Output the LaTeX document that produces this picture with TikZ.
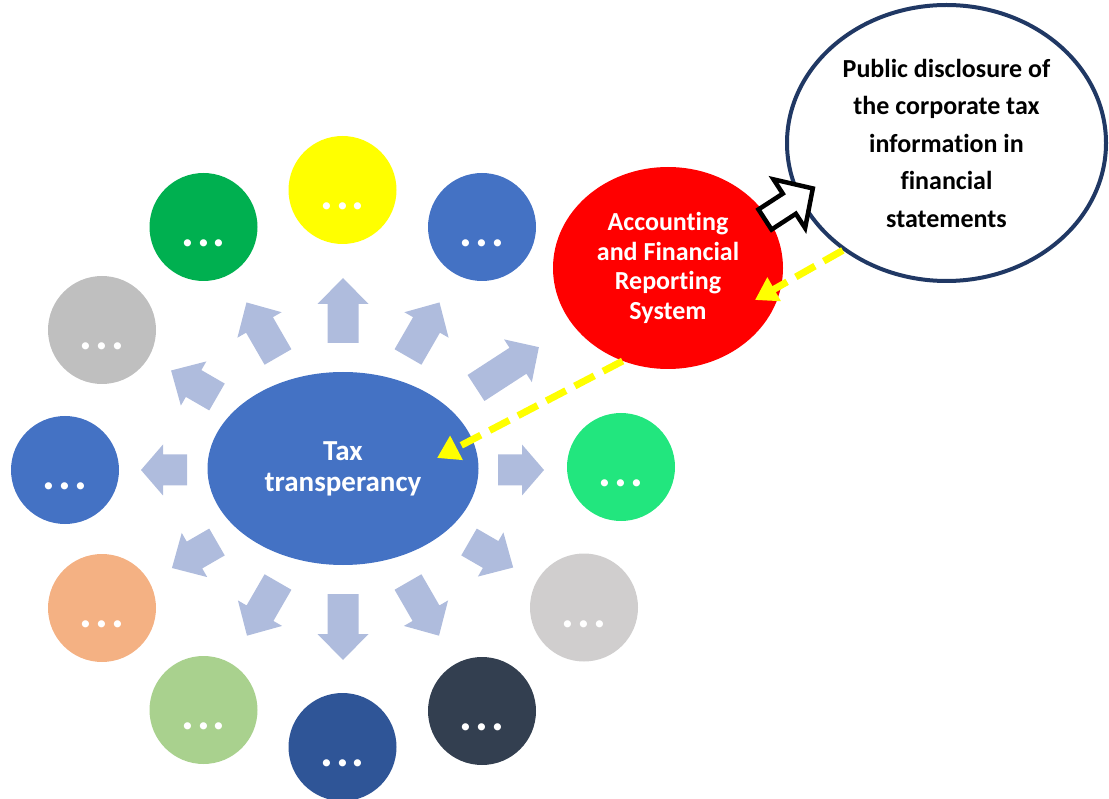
\documentclass[tikz,border=0pt]{standalone}
\usepackage{fontspec}
\setmainfont{Carlito}[Ligatures=NoCommon]
\usetikzlibrary{shapes.geometric,arrows.meta}

\definecolor{taxblue}{HTML}{4472C4}
\definecolor{arrowfill}{HTML}{AFBCDD}
\definecolor{accred}{HTML}{FF0000}
\definecolor{navyline}{HTML}{203864}
\definecolor{dashyellow}{HTML}{FFFF00}
\definecolor{cYellow}{HTML}{FFFF00}
\definecolor{cGreen}{HTML}{00B050}
\definecolor{cGray}{HTML}{BFBFBF}
\definecolor{cBlue}{HTML}{4472C4}
\definecolor{cOrange}{HTML}{F4B183}
\definecolor{cLightGreen}{HTML}{A9D18E}
\definecolor{cDarkBlue}{HTML}{2F5597}
\definecolor{cSlate}{HTML}{333F50}
\definecolor{cLightGray}{HTML}{D0CECE}
\definecolor{cMint}{HTML}{22E67E}

\tikzset{
  bubble/.style={circle, minimum size=108pt, inner sep=0pt},
  dotstext/.style={text=white, inner sep=0pt,
    font=\fontsize{48}{48}\selectfont\bfseries},
  yellowlink/.style={draw=dashyellow, line width=7pt,
    dash pattern=on 22pt off 10pt,
    -{Triangle[length=22pt,width=26pt]}},
}

% a coloured bubble with its three dots
\newcommand\bubble[4]{%
  \node[bubble, fill=#4] (#1) at (#2,#3) {};
  \node[dotstext, anchor=base] (#1-t) at ([yshift=-19.5pt]#1.center) {.\kern3pt.\kern3pt.};
}

% block arrow: tail x, tail y, direction, total length, head length
\newcommand\blockarrow[5]{%
  \fill[arrowfill, shift={(#1,#2)}, rotate=#3]
    (0,-15.5) -- (#4-#5,-15.5) -- (#4-#5,-25.5) -- (#4,0)
    -- (#4-#5,25.5) -- (#4-#5,15.5) -- (0,15.5) -- cycle;
}

\begin{document}
\begin{tikzpicture}[x=1pt,y=-1pt]
\useasboundingbox (0,0) rectangle (1109,799);

% ring of bubbles
\bubble{yellow}{342.5}{190}{cYellow}
\bubble{bluetop}{482}{227}{cBlue}
\bubble{green}{203.5}{227}{cGreen}
\bubble{gray}{102}{330}{cGray}
\bubble{blueleft}{65}{470}{cBlue}
\bubble{orange}{102}{608}{cOrange}
\bubble{lightgreen}{203.5}{710}{cLightGreen}
\bubble{darkblue}{342.5}{747}{cDarkBlue}
\bubble{slate}{482}{711}{cSlate}
\bubble{lightgray}{584}{607.5}{cLightGray}
\bubble{mint}{621}{467}{cMint}

% arrows radiating from the centre
\blockarrow{343}{343}{90}{65}{26}
\blockarrow{278}{357}{120}{63}{26}
\blockarrow{408}{357}{60}{63}{26}
\blockarrow{217}{397}{150}{53}{26}
\blockarrow{476}{388}{33}{75}{25}
\blockarrow{187}{470}{180}{46}{22}
\blockarrow{498}{470}{0}{46}{22}
\blockarrow{217}{542}{210}{52}{26}
\blockarrow{278}{582}{240}{62}{26}
\blockarrow{343}{594}{270}{66}{26}
\blockarrow{408}{582}{300}{62}{26}
\blockarrow{469}{542}{330}{51}{26}

% main ellipses
\node[ellipse, fill=taxblue, minimum width=271pt, minimum height=193pt,
      inner sep=0pt, text=white, align=center,
      font=\fontsize{29}{31}\selectfont\bfseries] (tax) at (343,468.5)
      {Tax\\transperancy};
\node[ellipse, fill=accred, minimum width=230pt, minimum height=202pt,
      inner sep=0pt, text=white, align=center,
      font=\fontsize{26}{29.5}\selectfont\bfseries] (acc) at (668,268)
      {Accounting\\and Financial\\Reporting\\System};
\node[ellipse, draw=navyline, line width=4pt, fill=white,
      minimum width=319pt, minimum height=276pt,
      inner sep=0pt, text=black, align=center,
      font=\fontsize{26}{37.5}\selectfont\bfseries] (pub) at (946.5,143)
      {Public disclosure of\\the corporate tax\\information in\\financial\\statements};

% outlined arrow from the reporting system to the disclosure
\draw[line width=4.5pt, fill=white, line join=miter, shift={(765,219.5)}, rotate=33]
  (0,-12) -- (29,-12) -- (29,-29) -- (57,0) -- (29,29) -- (29,12) -- (0,12) -- cycle;

% dashed yellow links
\coordinate (taxin) at (437,458);
\coordinate (accin) at (755,300);
\draw[yellowlink] (acc.244) -- (taxin);
\draw[yellowlink] (pub.226) -- (accin);
\end{tikzpicture}
\end{document}
